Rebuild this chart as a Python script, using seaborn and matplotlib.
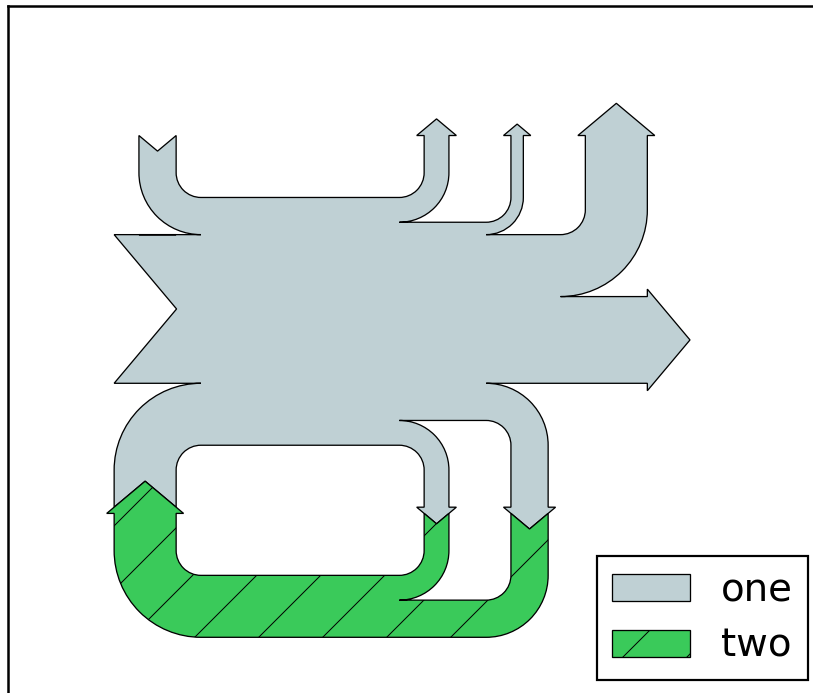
import matplotlib
matplotlib.use("Agg")
import matplotlib.pyplot as plt
import seaborn as sns
from matplotlib.sankey import Sankey
from matplotlib.transforms import Bbox

# two coupled systems
flows_one = [0.25, 0.15, 0.60, -0.10, -0.05, -0.25, -0.15, -0.10, -0.35]
orient_one = [-1, 1, 0, 1, 1, 1, -1, -1, 0]
flows_two = [-0.25, 0.15, 0.1]
orient_two = [-1, -1, -1]
labels = ["one", "two"]
colors = ["#bfd0d4", "#3aca5a"]

W, H = 813, 693
DPI = 192  # hatch spacing follows dpi
PT = 72 / DPI  # points per pixel

sns.set_style("white")
plt.rcParams["font.family"] = ["DejaVu Sans"]
plt.rcParams["text.color"] = "black"
plt.rcParams["hatch.linewidth"] = 1.0 * PT

fig = plt.figure(figsize=(W / DPI, H / DPI), dpi=DPI)

# frame: left/top visible, right/bottom just beyond the crop
ax_l, ax_t, ax_r, ax_b = 8, 6, 820, 697
ax = fig.add_axes([ax_l / W, 1 - ax_b / H, (ax_r - ax_l) / W, (ax_b - ax_t) / H],
                  xticks=[], yticks=[])
ax.set_title("Two Systems", fontsize=47 * PT, pad=16 * PT)
for sp in ax.spines.values():
    sp.set_color("black")
    sp.set_linewidth(2.5 * PT)

sankey = Sankey(ax=ax, unit=None)
sankey.add(flows=flows_one, label=labels[0], orientations=orient_one,
           fc=colors[0], ec="black", lw=1.3 * PT)
sankey.add(flows=flows_two, label=labels[1], orientations=orient_two,
           prior=0, connect=(0, 0), fc=colors[1], ec="black", lw=1.3 * PT)
diagrams = sankey.finish()
diagrams[-1].patch.set_hatch("/")

# place the diagram where it sits in the reference
ax.set_aspect("auto")
ext = Bbox.union([d.patch.get_path().get_extents() for d in diagrams])
px_l, px_r, px_t, px_b = 106.7, 690.0, 103.3, 637.3
sx = (px_r - px_l) / ext.width
sy = (px_b - px_t) / ext.height
ax.set_xlim(ext.x0 - (px_l - ax_l) / sx, ext.x0 + (ax_r - px_l) / sx)
ax.set_ylim(ext.y1 - (ax_b - px_t) / sy, ext.y1 + (px_t - ax_t) / sy)

leg = ax.legend(loc="upper left", bbox_to_anchor=(596.7 / W, 1 - 555.7 / H),
                bbox_transform=fig.transFigure, borderaxespad=0,
                fontsize=38.8 * PT, labelspacing=0.45,
                fancybox=False, framealpha=1)
leg.get_frame().set_edgecolor("black")
leg.get_frame().set_linewidth(2.2 * PT)

fig.savefig("out.png", dpi=DPI)
